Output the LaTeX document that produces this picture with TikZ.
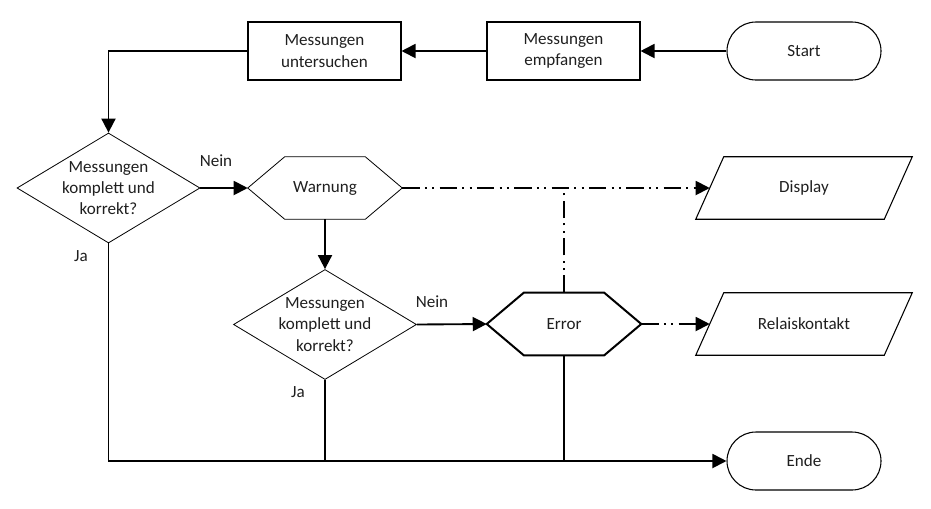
\documentclass[tikz,border=0pt]{standalone}
\usepackage{fontspec}
\setmainfont{Carlito}
\usetikzlibrary{arrows.meta,shapes.geometric,shapes.misc,calc}
\tikzset{
  txt/.style={font=\fontsize{12.8}{16}\selectfont, align=center, text=black!88},
  box/.style={txt, draw, line width=0.8pt, rectangle, minimum width=153*0.75pt, minimum height=58*0.75pt, inner sep=0pt},
  term/.style={txt, draw, line width=0.8pt, rounded rectangle, minimum width=154*0.75pt, minimum height=58*0.75pt, inner sep=0pt},
  dec/.style={draw, line width=0.6pt, diamond, minimum width=183*0.75pt, minimum height=110*0.75pt, inner sep=0pt},
  frame/.style={txt, rectangle, minimum width=154*0.75pt, minimum height=62*0.75pt, inner sep=0pt},
  io/.style={txt, rectangle, minimum width=216*0.75pt, minimum height=62*0.75pt, inner sep=0pt},
  tip/.style={-{Triangle[length=10.5pt,width=10.5pt]}},
  conn/.style={line width=1.4pt, tip},
  plain/.style={line width=1.4pt},
  ddd/.style={line width=1.4pt, dash pattern=on 13pt off 4pt on 1.5pt off 4pt on 1.5pt off 4pt},
  lab/.style={txt}
}
\begin{document}
\begin{tikzpicture}[x=0.75pt,y=-0.75pt]
\useasboundingbox (0,0) rectangle (931,508);
% nodes
\node[term] (start) at (804,51) {Start};
\node[box] (empf) at (563.5,51) {Messungen\\empfangen};
\node[box] (unters) at (324.5,51) {Messungen\\untersuchen};
\node[dec, label={[txt]center:Messungen\\komplett und\\korrekt?}] (d1) at (108.5,188) {};
\node[frame] (warn) at (325,188) {Warnung};
\node[dec, label={[txt]center:Messungen\\komplett und\\korrekt?}] (d2) at (325,324.5) {};
\node[frame] (err) at (564,324) {Error};
\node[io] (disp) at (804,188) {Display};
\node[io] (rel) at (804,324) {Relaiskontakt};
\node[term] (ende) at (804,461) {Ende};
% shape outlines
\draw[line width=0.6pt] (warn.west) -- ($(warn.north west)+(37,0)$) -- ($(warn.north east)+(-37,0)$) -- (warn.east) -- ($(warn.south east)+(-37,0)$) -- ($(warn.south west)+(37,0)$) -- cycle;
\draw[line width=1.5pt, line join=miter] (err.west) -- ($(err.north west)+(37,0)$) -- ($(err.north east)+(-37,0)$) -- (err.east) -- ($(err.south east)+(-37,0)$) -- ($(err.south west)+(37,0)$) -- cycle;
\draw[line width=0.8pt] (disp.south west) -- ($(disp.north west)+(28,0)$) -- (disp.north east) -- ($(disp.south east)+(-28,0)$) -- cycle;
\draw[line width=0.8pt] (rel.south west) -- ($(rel.north west)+(28,0)$) -- (rel.north east) -- ($(rel.south east)+(-28,0)$) -- cycle;
\coordinate (dispin) at ($(disp.west)+(14,0)$);
\coordinate (relin) at ($(rel.west)+(14,0)$);
\coordinate (tee) at (err.north |- warn.east);
% connectors
\draw[conn] (start.west) -- (empf.east);
\draw[conn] (empf.west) -- (unters.east);
\draw[conn] (unters.west) -| (d1.north);
\draw[conn] (d1.east) -- (warn.west);
\draw[conn] (d1.south) |- (ende.west);
\draw[conn] (warn.south) -- (d2.north);
\draw[conn] (d2.east) -- (err.west);
\draw[plain] (d2.south) -- (d2.south |- ende.west);
\draw[plain] (err.south) -- (err.south |- ende.west);
\draw[ddd] (err.north) -- (tee);
\draw[ddd, tip] (warn.east) -- (dispin);
\draw[ddd, tip] (err.east) -- (relin);
% labels
\node[lab] (n1) at (216,161) {Nein};
\node[lab] (j1) at (81,256) {Ja};
\node[lab] (n2) at (432,302) {Nein};
\node[lab] (j2) at (298,392) {Ja};
\end{tikzpicture}
\end{document}
